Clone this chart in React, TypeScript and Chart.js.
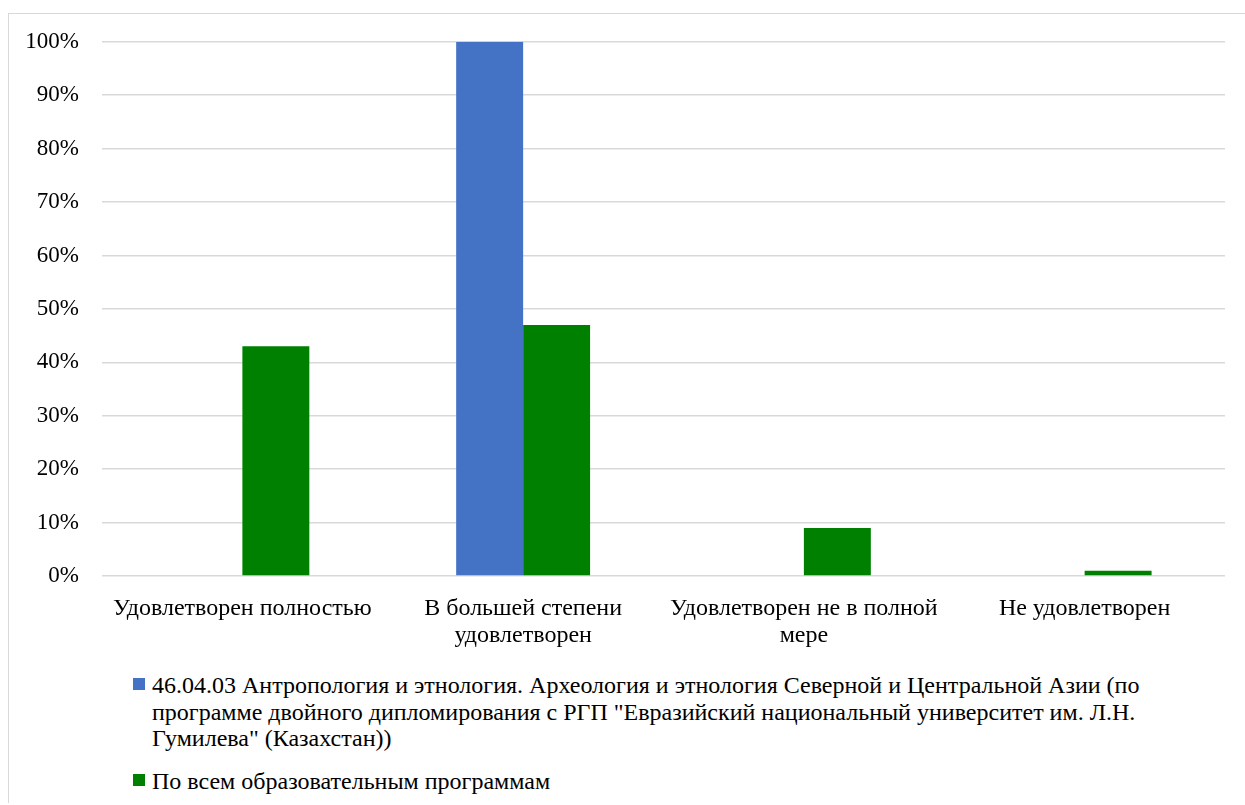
import React, { useEffect, useRef } from "react";
import { Chart, registerables } from "chart.js";

Chart.register(...registerables);

const categories: (string | string[])[] = [
  "Удовлетворен полностью",
  ["В большей степени", "удовлетворен"],
  ["Удовлетворен не в полной", "мере"],
  "Не удовлетворен",
];

const seriesNames = [
  "46.04.03 Антропология и этнология. Археология и этнология Северной и Центральной Азии (по программе двойного дипломирования с РГП \"Евразийский национальный университет им. Л.Н. Гумилева\" (Казахстан))",
  "По всем образовательным программам",
];

const legendLines: string[][] = [
  [
    "46.04.03 Антропология и этнология. Археология и этнология Северной и Центральной Азии (по",
    "программе двойного дипломирования с РГП \"Евразийский национальный университет им. Л.Н.",
    "Гумилева\" (Казахстан))",
  ],
  ["По всем образовательным программам"],
];

const programValues = [0, 100, 0, 0];
const allProgramsValues = [43, 47, 9, 1];

const colors = ["#4472C4", "#008000"];

const FONT = "Liberation Serif";

Chart.defaults.font.family = FONT;

export default function App() {
  const canvasRef = useRef<HTMLCanvasElement | null>(null);

  useEffect(() => {
    if (!canvasRef.current) return;
    const chart = new Chart(canvasRef.current, {
      type: "bar",
      data: {
        labels: categories,
        datasets: [
          {
            label: seriesNames[0],
            data: programValues,
            backgroundColor: colors[0],
            barPercentage: 1,
            categoryPercentage: 0.477,
          },
          {
            label: seriesNames[1],
            data: allProgramsValues,
            backgroundColor: colors[1],
            barPercentage: 1,
            categoryPercentage: 0.477,
          },
        ],
      },
      options: {
        animation: false,
        responsive: true,
        maintainAspectRatio: false,
        layout: { padding: { top: 14, right: 20, left: 0, bottom: 0 } },
        plugins: {
          legend: { display: false },
          tooltip: { enabled: false },
        },
        scales: {
          x: {
            grid: { display: false },
            border: { display: false },
            ticks: {
              color: "#000",
              font: { family: FONT, size: 24, lineHeight: 1.125 },
              padding: 11,
              maxRotation: 0,
              autoSkip: false,
            },
            afterFit: (scale: any) => {
              scale.height = 78;
            },
          },
          y: {
            min: 0,
            max: 100,
            grid: {
              color: "#d9d9d9",
              lineWidth: 1.5,
              drawTicks: false,
            },
            border: { display: false },
            ticks: {
              stepSize: 10,
              color: "#000",
              font: { family: FONT, size: 23 },
              padding: 23,
              callback: (v: any) => v + "%",
            },
            afterFit: (scale: any) => {
              scale.width = 93;
            },
          },
        },
      },
    });
    return () => chart.destroy();
  }, []);

  return (
    <div
      style={{
        position: "absolute",
        left: 8,
        top: 13,
        width: 1237,
        height: 790,
        borderLeft: "1px solid #d9d9d9",
        borderTop: "1px solid #d9d9d9",
        overflow: "hidden",
        fontFamily: FONT,
        boxSizing: "border-box",
      }}
    >
      <div style={{ position: "absolute", left: 0, top: -9, width: 1236, height: 649 }}>
        <canvas ref={canvasRef} />
      </div>
      {legendLines.map((lines, i) => (
        <div
          key={i}
          style={{
            position: "absolute",
            left: 124,
            top: i === 0 ? 658 : 754,
            display: "flex",
            alignItems: "flex-start",
          }}
        >
          <div
            style={{
              width: 12,
              height: 12,
              background: colors[i],
              marginTop: 6,
              marginRight: 7,
              flex: "none",
            }}
          />
          <div style={{ fontFamily: FONT, fontSize: 24, lineHeight: "26.5px", color: "#000", whiteSpace: "nowrap" }}>
            {lines.map((l, j) => (
              <div key={j}>{l}</div>
            ))}
          </div>
        </div>
      ))}
    </div>
  );
}
